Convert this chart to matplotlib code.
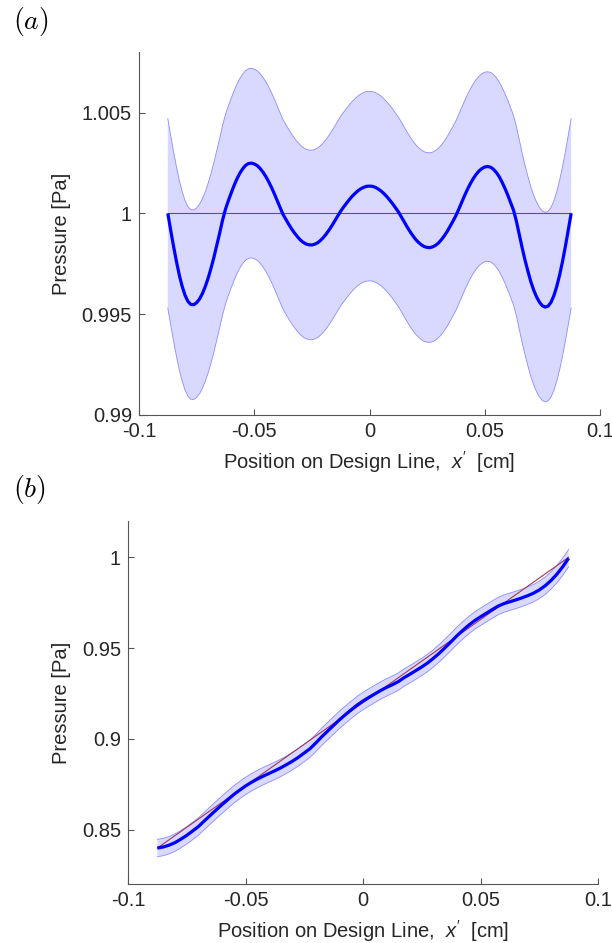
import matplotlib
matplotlib.use("Agg")
import matplotlib.pyplot as plt
from matplotlib.ticker import FixedLocator, FixedFormatter

plt.rcParams['font.family'] = ['Liberation Sans', 'DejaVu Sans']
plt.rcParams['axes.unicode_minus'] = False
plt.rcParams['mathtext.fontset'] = 'custom'
plt.rcParams['mathtext.it'] = 'Liberation Sans:italic'
plt.rcParams['mathtext.rm'] = 'Liberation Sans'

# ---------------- data ----------------
# panel (a): positions on the design line and mean pressure
x_a = [-0.08750, -0.08625, -0.08500, -0.08375, -0.08250, -0.08125, -0.08000, -0.07875,
       -0.07750, -0.07625, -0.07500, -0.07375, -0.07250, -0.07125, -0.07000, -0.06875,
       -0.06750, -0.06625, -0.06500, -0.06375, -0.06250, -0.06125, -0.06000, -0.05875,
       -0.05750, -0.05625, -0.05500, -0.05375, -0.05250, -0.05125, -0.05000, -0.04875,
       -0.04750, -0.04625, -0.04500, -0.04375, -0.04250, -0.04125, -0.04000, -0.03875,
       -0.03750, -0.03625, -0.03500, -0.03375, -0.03250, -0.03125, -0.03000, -0.02875,
       -0.02750, -0.02625, -0.02500, -0.02375, -0.02250, -0.02125, -0.02000, -0.01875,
       -0.01750, -0.01625, -0.01500, -0.01375, -0.01250, -0.01125, -0.01000, -0.00875,
       -0.00750, -0.00625, -0.00500, -0.00375, -0.00250, -0.00125, 0.00000, 0.00125,
       0.00250, 0.00375, 0.00500, 0.00625, 0.00750, 0.00875, 0.01000, 0.01125,
       0.01250, 0.01375, 0.01500, 0.01625, 0.01750, 0.01875, 0.02000, 0.02125,
       0.02250, 0.02375, 0.02500, 0.02625, 0.02750, 0.02875, 0.03000, 0.03125,
       0.03250, 0.03375, 0.03500, 0.03625, 0.03750, 0.03875, 0.04000, 0.04125,
       0.04250, 0.04375, 0.04500, 0.04625, 0.04750, 0.04875, 0.05000, 0.05125,
       0.05250, 0.05375, 0.05500, 0.05625, 0.05750, 0.05875, 0.06000, 0.06125,
       0.06250, 0.06375, 0.06500, 0.06625, 0.06750, 0.06875, 0.07000, 0.07125,
       0.07250, 0.07375, 0.07500, 0.07625, 0.07750, 0.07875, 0.08000, 0.08125,
       0.08250, 0.08375, 0.08500, 0.08625, 0.08750]

mean_a = [1.00000, 0.99916, 0.99836, 0.99761, 0.99693, 0.99637, 0.99593, 0.99563,
          0.99548, 0.99547, 0.99557, 0.99575, 0.99602, 0.99637, 0.99679, 0.99728,
          0.99782, 0.99841, 0.99902, 0.99966, 1.00020, 1.00062, 1.00101, 1.00138,
          1.00171, 1.00199, 1.00221, 1.00238, 1.00247, 1.00249, 1.00245, 1.00237,
          1.00223, 1.00205, 1.00183, 1.00157, 1.00128, 1.00096, 1.00062, 1.00027,
          0.99994, 0.99969, 0.99945, 0.99922, 0.99902, 0.99884, 0.99868, 0.99856,
          0.99848, 0.99844, 0.99843, 0.99847, 0.99854, 0.99866, 0.99880, 0.99898,
          0.99918, 0.99940, 0.99964, 0.99989, 1.00011, 1.00031, 1.00050, 1.00068,
          1.00085, 1.00099, 1.00112, 1.00122, 1.00129, 1.00134, 1.00135, 1.00134,
          1.00129, 1.00121, 1.00111, 1.00098, 1.00083, 1.00066, 1.00048, 1.00028,
          1.00008, 0.99984, 0.99959, 0.99934, 0.99911, 0.99890, 0.99871, 0.99856,
          0.99844, 0.99835, 0.99831, 0.99830, 0.99834, 0.99842, 0.99854, 0.99870,
          0.99889, 0.99911, 0.99936, 0.99962, 0.99989, 1.00021, 1.00055, 1.00088,
          1.00119, 1.00147, 1.00172, 1.00193, 1.00210, 1.00222, 1.00230, 1.00232,
          1.00229, 1.00219, 1.00203, 1.00182, 1.00155, 1.00124, 1.00090, 1.00053,
          1.00015, 0.99960, 0.99893, 0.99828, 0.99767, 0.99712, 0.99661, 0.99619,
          0.99585, 0.99559, 0.99542, 0.99535, 0.99540, 0.99559, 0.99592, 0.99638,
          0.99695, 0.99762, 0.99837, 0.99918, 1.00000]

# panel (b): positions and mean pressure
x_b = [-0.0875, -0.0850, -0.0825, -0.0800, -0.0775, -0.0750, -0.0725, -0.0700,
       -0.0675, -0.0650, -0.0625, -0.0600, -0.0575, -0.0550, -0.0525, -0.0500,
       -0.0475, -0.0450, -0.0425, -0.0400, -0.0375, -0.0350, -0.0325, -0.0300,
       -0.0275, -0.0250, -0.0225, -0.0200, -0.0175, -0.0150, -0.0125, -0.0100,
       -0.0075, -0.0050, -0.0025, 0.0000, 0.0025, 0.0050, 0.0075, 0.0100,
       0.0125, 0.0150, 0.0175, 0.0200, 0.0225, 0.0250, 0.0275, 0.0300,
       0.0325, 0.0350, 0.0375, 0.0400, 0.0425, 0.0450, 0.0475, 0.0500,
       0.0525, 0.0550, 0.0575, 0.0600, 0.0625, 0.0650, 0.0675, 0.0700,
       0.0725, 0.0750, 0.0775, 0.0800, 0.0825, 0.0850, 0.0875]

mean_b = [0.8398, 0.8404, 0.8414, 0.8428, 0.8447, 0.8468, 0.8492, 0.8517,
          0.8548, 0.8578, 0.8608, 0.8637, 0.8665, 0.8693, 0.8717, 0.8740,
          0.8760, 0.8778, 0.8794, 0.8809, 0.8824, 0.8840, 0.8858, 0.8877,
          0.8898, 0.8922, 0.8946, 0.8978, 0.9012, 0.9043, 0.9074, 0.9105,
          0.9133, 0.9160, 0.9186, 0.9208, 0.9228, 0.9247, 0.9266, 0.9283,
          0.9298, 0.9315, 0.9337, 0.9356, 0.9376, 0.9396, 0.9418, 0.9444,
          0.9472, 0.9503, 0.9535, 0.9568, 0.9598, 0.9626, 0.9651, 0.9672,
          0.9692, 0.9712, 0.9731, 0.9745, 0.9755, 0.9765, 0.9776, 0.9788,
          0.9802, 0.9820, 0.9843, 0.9872, 0.9907, 0.9948, 0.9995]

# half-width of the uncertainty band (constant along the line)
band_a = 0.0047
band_b = 0.0048

ref_x = [-0.0875, 0.0875]
ref_a = [1.0, 1.0]
ref_b = [0.8398, 1.0]

xticks = [-0.1, -0.05, 0, 0.05, 0.1]
xtick_labels = ['-0.1', '-0.05', '0', '0.05', '0.1']
yticks_a = [0.99, 0.995, 1.0, 1.005]
ytick_labels_a = ['0.99', '0.995', '1', '1.005']
yticks_b = [0.85, 0.9, 0.95, 1.0]
ytick_labels_b = ['0.85', '0.9', '0.95', '1']

xlabel = "Position on Design Line,  $x'$  [cm]"
ylabel = "Pressure [Pa]"

# ---------------- figure ----------------
W, H = 612, 943
fig = plt.figure(figsize=(W / 100, H / 100), dpi=100)

axA = fig.add_axes([139 / W, 1 - 415 / H, 461 / W, 363 / H])
axB = fig.add_axes([128 / W, 1 - 884 / H, 470 / W, 363 / H])

fill_col = (0.85, 0.85, 1.0)
edge_col = (0.55, 0.55, 1.0)
red_col = '#A2384E'
axis_col = '#555555'
text_col = '#262626'


def draw(ax, xs, mean, band, ref, yticks, ylabs, ylim):
    upper = [m + band for m in mean]
    lower = [m - band for m in mean]
    ax.fill_between(xs, lower, upper, facecolor=fill_col, edgecolor='none', zorder=1)
    ax.plot(xs, upper, color=edge_col, lw=0.6, zorder=2)
    ax.plot(xs, lower, color=edge_col, lw=0.6, zorder=2)
    ax.plot(ref_x, ref, color=red_col, lw=0.8, zorder=3)
    ax.plot(xs, mean, color=(0, 0, 1), lw=2.3, zorder=4,
            solid_capstyle='butt', solid_joinstyle='round')
    ax.set_xlim(-0.1, 0.1)
    ax.set_ylim(*ylim)
    ax.xaxis.set_major_locator(FixedLocator(xticks))
    ax.xaxis.set_major_formatter(FixedFormatter(xtick_labels))
    ax.yaxis.set_major_locator(FixedLocator(yticks))
    ax.yaxis.set_major_formatter(FixedFormatter(ylabs))
    for s in ['top', 'right']:
        ax.spines[s].set_visible(False)
    for s in ['left', 'bottom']:
        ax.spines[s].set_color(axis_col)
        ax.spines[s].set_linewidth(0.8)
    ax.tick_params(direction='in', length=4, width=0.8, color=axis_col,
                   labelsize=14.5, labelcolor=text_col, pad=5)
    ax.set_xlabel(xlabel, fontsize=14.5, color=text_col, labelpad=6)
    ax.set_ylabel(ylabel, fontsize=14.5, color=text_col, labelpad=8)
    ax.patch.set_alpha(0)


draw(axA, x_a, mean_a, band_a, ref_a, yticks_a, ytick_labels_a, (0.99, 1.008))
draw(axB, x_b, mean_b, band_b, ref_b, yticks_b, ytick_labels_b, (0.82, 1.02))

fig.text(13 / W, 1 - 22 / H, r'$(a)$', fontsize=20, math_fontfamily='cm',
         ha='left', va='center', color='black')
fig.text(13 / W, 1 - 490 / H, r'$(b)$', fontsize=20, math_fontfamily='cm',
         ha='left', va='center', color='black')

fig.savefig('out.png', dpi=100, facecolor='white')
